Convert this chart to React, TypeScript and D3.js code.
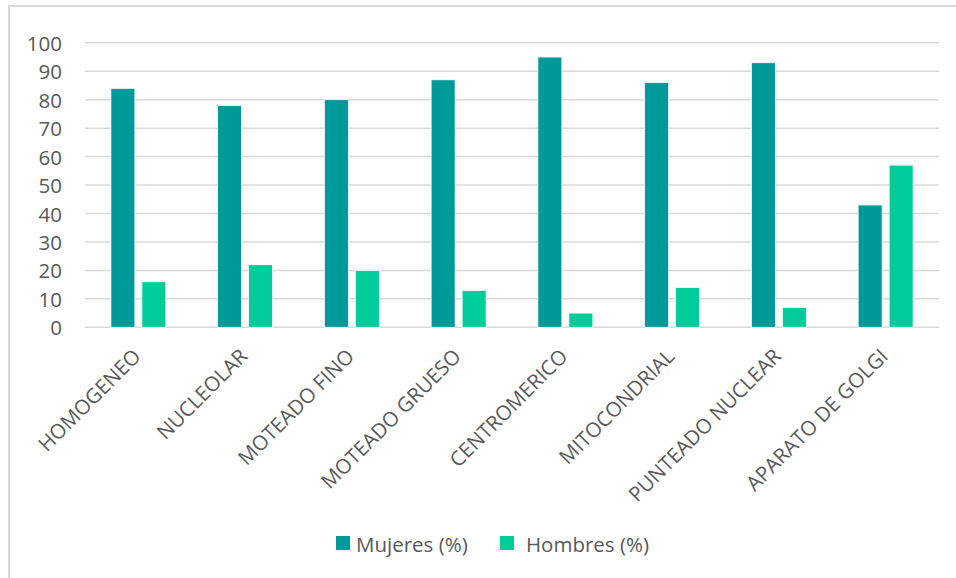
import React from "react";
import * as d3 from "d3";

const categories = [
  "HOMOGENEO",
  "NUCLEOLAR",
  "MOTEADO FINO",
  "MOTEADO GRUESO",
  "CENTROMERICO",
  "MITOCONDRIAL",
  "PUNTEADO NUCLEAR",
  "APARATO DE GOLGI",
];
const mujeres = [84, 78, 80, 87, 95, 86, 93, 43];
const hombres = [16, 22, 20, 13, 5, 14, 7, 57];
const seriesNames = ["Mujeres (%)", "Hombres (%)"];
const seriesColors = ["#009999", "#00CC99"];
const yTicks = [0, 10, 20, 30, 40, 50, 60, 70, 80, 90, 100];

const W = 956;
const H = 578;
const plot = { left: 85, right: 939, top: 42.8, bottom: 327.3 };
const FONT = "'Open Sans', 'DejaVu Sans', sans-serif";
const TEXT = "#595959";
const GRID = "#d9d9d9";

export default function App() {
  const x = d3
    .scaleBand<string>()
    .domain(categories)
    .range([plot.left, plot.right])
    .paddingInner(0)
    .paddingOuter(0);
  const y = d3.scaleLinear().domain([0, 100]).range([plot.bottom, plot.top]);

  const barW = 24;
  const gap = 7;
  const series = [mujeres, hombres];

  return (
    <div style={{ position: "fixed", left: 0, top: 0, width: W, height: H, background: "#fff" }}>
      <svg width={W} height={H} style={{ display: "block" }} fontFamily={FONT}>
        <rect x={0} y={0} width={W} height={H} fill="#fff" />
        {/* chart frame */}
        <rect x={9} y={6} width={W + 20} height={H + 20} fill="none" stroke={GRID} strokeWidth={2} />

        {/* gridlines and y labels */}
        {yTicks.map((t) => (
          <g key={t}>
            <line x1={plot.left} x2={plot.right} y1={y(t)} y2={y(t)} stroke={GRID} strokeWidth={1.5} />
            <text
              x={62}
              y={y(t)}
              textAnchor="end"
              dominantBaseline="central"
              fontSize={20.5}
              fill={TEXT}
            >
              {t}
            </text>
          </g>
        ))}

        {/* bars */}
        {categories.map((c, i) => {
          const cx = (x(c) as number) + x.bandwidth() / 2;
          return (
            <g key={c}>
              {series.map((vals, s) => {
                const bx = s === 0 ? cx - gap / 2 - barW : cx + gap / 2;
                return (
                  <rect
                    key={s}
                    x={bx}
                    y={y(vals[i])}
                    width={barW}
                    height={y(0) - y(vals[i])}
                    fill={seriesColors[s]}
                    stroke="#ffffff"
                    strokeWidth={0.8}
                  />
                );
              })}
              <text
                transform={`translate(${cx - 2},${352}) rotate(-45)`}
                textAnchor="end"
                dominantBaseline="central"
                fontSize={20.5}
                fill={TEXT}
              >
                {c}
              </text>
            </g>
          );
        })}

        {/* legend */}
        {[
          { sx: 336, tx: 356 },
          { sx: 500, tx: 526 },
        ].map((p, s) => (
          <g key={s}>
            <rect x={p.sx} y={536} width={14} height={14} fill={seriesColors[s]} />
            <text x={p.tx} y={544} dominantBaseline="central" fontSize={20.5} fill={TEXT}>
              {seriesNames[s]}
            </text>
          </g>
        ))}
      </svg>
    </div>
  );
}
